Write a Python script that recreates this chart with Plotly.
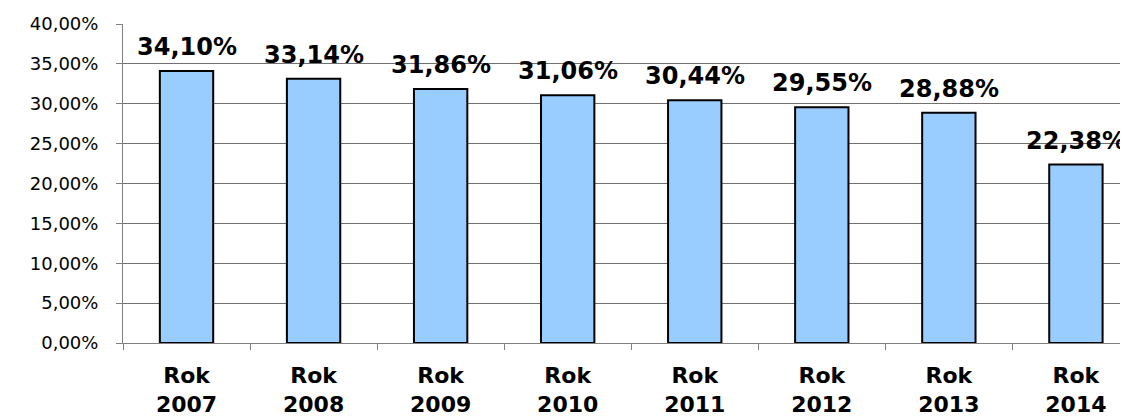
import plotly.graph_objects as go

categories = ["Rok<br>2007", "Rok<br>2008", "Rok<br>2009", "Rok<br>2010",
              "Rok<br>2011", "Rok<br>2012", "Rok<br>2013", "Rok<br>2014"]
values = [34.10, 33.14, 31.86, 31.06, 30.44, 29.55, 28.88, 22.38]
value_labels = ["34,10%", "33,14%", "31,86%", "31,06%", "30,44%", "29,55%", "28,88%", "22,38%"]
y_ticks = [0, 5, 10, 15, 20, 25, 30, 35, 40]
y_ticktext = ["0,00%", "5,00%", "10,00%", "15,00%", "20,00%", "25,00%", "30,00%", "35,00%", "40,00%"]

fig = go.Figure()
fig.add_trace(go.Bar(
    x=categories, y=values, width=0.42,
    marker=dict(color="#99CCFF", line=dict(color="#000000", width=2)),
    hoverinfo="skip",
))

for c, v, t in zip(categories, values, value_labels):
    fig.add_annotation(x=c, y=v, text=t, showarrow=False, yanchor="middle",
                       yshift=24,
                       font=dict(family="DejaVu Sans", size=24, color="#000000", weight="bold"))

fig.update_layout(
    width=1120, height=409,
    margin=dict(l=115, r=0, t=16, b=74),
    paper_bgcolor="white", plot_bgcolor="white",
    showlegend=False,
    xaxis=dict(
        type="category", range=[-0.5, 7.41], automargin=False,
        showline=True, linecolor="#808080", linewidth=1,
        ticks="outside", ticklen=6, tickcolor="#808080", tickson="boundaries",
        tickfont=dict(family="DejaVu Sans", size=22, color="#000000", weight="bold"),
        ticklabelstandoff=13,
        showgrid=False, zeroline=False,
    ),
    yaxis=dict(
        range=[0, 40], tickvals=y_ticks, ticktext=y_ticktext, automargin=False,
        showline=True, linecolor="#808080", linewidth=1,
        ticks="outside", ticklen=6, tickcolor="#808080",
        tickfont=dict(family="DejaVu Sans", size=18, color="#000000"),
        ticklabelstandoff=14,
        showgrid=True, gridcolor="#707070", gridwidth=1,
        zeroline=False,
    ),
)

fig.write_html("out.html")
